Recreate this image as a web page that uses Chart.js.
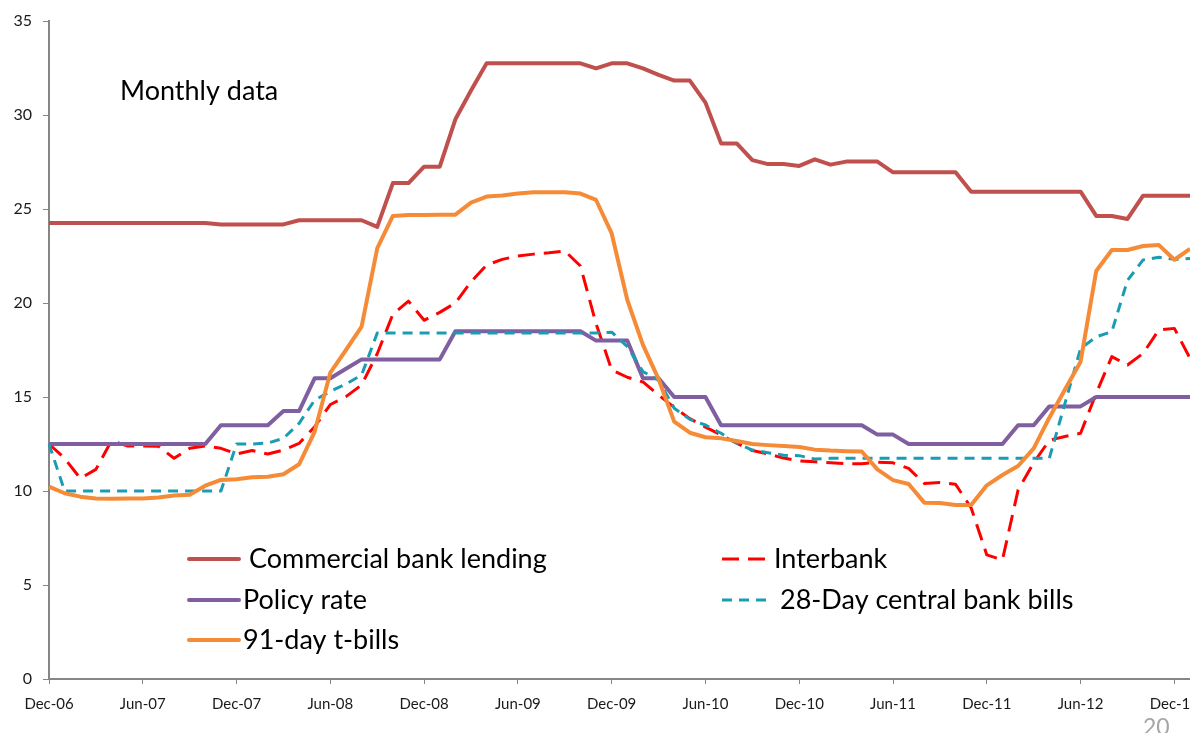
<!DOCTYPE html>
<html>
<head>
<meta charset="utf-8">
<script src="https://cdn.jsdelivr.net/npm/chart.js@4.4.1/dist/chart.umd.min.js"></script>
<style>
  html, body { margin: 0; padding: 0; background: #ffffff; overflow: hidden; }
  #wrap { width: 1190px; height: 733px; }
</style>
</head>
<body>
<div id="wrap"><canvas id="c" width="1190" height="733"></canvas></div>
<script>
// ---------------- DATA ----------------
const months = [
  "Dec-06",
  "Jan-07","Feb-07","Mar-07","Apr-07","May-07","Jun-07","Jul-07","Aug-07","Sep-07","Oct-07","Nov-07","Dec-07",
  "Jan-08","Feb-08","Mar-08","Apr-08","May-08","Jun-08","Jul-08","Aug-08","Sep-08","Oct-08","Nov-08","Dec-08",
  "Jan-09","Feb-09","Mar-09","Apr-09","May-09","Jun-09","Jul-09","Aug-09","Sep-09","Oct-09","Nov-09","Dec-09",
  "Jan-10","Feb-10","Mar-10","Apr-10","May-10","Jun-10","Jul-10","Aug-10","Sep-10","Oct-10","Nov-10","Dec-10",
  "Jan-11","Feb-11","Mar-11","Apr-11","May-11","Jun-11","Jul-11","Aug-11","Sep-11","Oct-11","Nov-11","Dec-11",
  "Jan-12","Feb-12","Mar-12","Apr-12","May-12","Jun-12","Jul-12","Aug-12","Sep-12","Oct-12","Nov-12","Dec-12",
  "Jan-13"
];

const commercialLending = [
  24.26,24.26,24.26,24.26,24.26,24.26,24.26,24.26,24.26,24.26,24.26,24.18,
  24.18,24.18,24.18,24.18,24.4,24.4,24.4,24.4,24.4,24.05,26.38,26.38,
  27.25,27.25,29.77,31.3,32.75,32.75,32.75,32.75,32.75,32.75,32.75,32.48,
  32.75,32.75,32.48,32.13,31.83,31.83,30.66,28.49,28.49,27.6,27.39,27.39,
  27.29,27.64,27.36,27.52,27.52,27.52,26.95,26.95,26.95,26.95,26.95,25.92,
  25.92,25.92,25.92,25.92,25.92,25.92,25.92,24.63,24.63,24.47,25.71,25.71,
  25.71,25.71
];

const interbank = [
  12.5,11.74,10.67,11.15,12.68,12.4,12.4,12.38,11.74,12.27,12.4,12.27,
  11.97,12.15,11.97,12.18,12.53,13.42,14.6,15.02,15.64,17.3,19.4,20.1,
  19.08,19.5,20.0,21.13,22.02,22.32,22.5,22.6,22.67,22.77,21.97,18.9,
  16.44,16.05,15.8,15.1,14.45,13.85,13.4,12.98,12.54,12.15,11.97,11.75,
  11.6,11.55,11.5,11.45,11.45,11.53,11.5,11.2,10.4,10.45,10.36,9.1,
  6.6,6.33,10.05,11.5,12.7,12.9,13.07,15.2,17.15,16.7,17.32,18.56,
  18.65,17.06
];

const policyRate = [
  12.5,12.5,12.5,12.5,12.5,12.5,12.5,12.5,12.5,12.5,12.5,13.5,
  13.5,13.5,13.5,14.25,14.25,16,16,16.5,17,17,17,17,
  17,17,18.5,18.5,18.5,18.5,18.5,18.5,18.5,18.5,18.5,18,
  18,18,16,16,15,15,15,13.5,13.5,13.5,13.5,13.5,
  13.5,13.5,13.5,13.5,13.5,13,13,12.5,12.5,12.5,12.5,12.5,
  12.5,12.5,13.5,13.5,14.5,14.5,14.5,15,15,15,15,15,
  15,15
];

const centralBankBills28 = [
  12.5,10,10,10,10,10,10,10,10,10,10,10,
  12.5,12.5,12.55,12.8,13.6,14.84,15.3,15.69,16.17,18.4,18.4,18.4,
  18.4,18.4,18.4,18.4,18.4,18.4,18.4,18.4,18.4,18.4,18.4,18.4,
  18.45,17.68,16.35,15.9,14.4,13.81,13.51,13.07,12.54,12.18,12.04,11.9,
  11.88,11.7,11.74,11.74,11.74,11.74,11.74,11.74,11.74,11.74,11.74,11.74,
  11.74,11.74,11.74,11.74,11.74,14.66,17.58,18.2,18.48,21.2,22.29,22.43,
  22.32,22.37
];

const tBills91 = [
  10.23,9.88,9.7,9.6,9.59,9.6,9.6,9.65,9.76,9.8,10.28,10.59,
  10.62,10.73,10.76,10.89,11.42,13.16,16.3,17.5,18.74,22.9,24.63,24.68,
  24.68,24.7,24.7,25.34,25.66,25.72,25.82,25.89,25.89,25.89,25.82,25.48,
  23.7,20.16,17.77,15.95,13.69,13.1,12.86,12.8,12.66,12.5,12.44,12.39,
  12.34,12.2,12.15,12.12,12.1,11.15,10.58,10.37,9.38,9.36,9.26,9.26,
  10.3,10.85,11.33,12.27,13.9,15.4,16.88,21.7,22.82,22.82,23.03,23.09,
  22.3,22.88
];

const seriesNames = ["Commercial bank lending", "Interbank", "Policy rate", "28-Day central bank bills", "91-day t-bills"];
const yTicks = [0, 5, 10, 15, 20, 25, 30, 35];
const noteText = "Monthly data";
const pageNumber = "20";

// ---------------- CHART ----------------
const FONT = "Lato";
const AXIS = "#868686";

const overlay = {
  id: "overlay",
  afterDraw(chart) {
    const ctx = chart.ctx;
    ctx.save();
    ctx.fillStyle = "#000000";
    ctx.textBaseline = "alphabetic";
    ctx.textAlign = "left";
    ctx.font = "27px " + FONT;
    ctx.fillText(noteText, 120, 100);

    // custom two-column legend
    const layout = [
      { ds: 0, x1: 189, x2: 239, y: 559, tx: 249 },
      { ds: 2, x1: 189, x2: 239, y: 600, tx: 243 },
      { ds: 4, x1: 189, x2: 239, y: 640, tx: 243 },
      { ds: 1, x1: 722, x2: 768, y: 559, tx: 774 },
      { ds: 3, x1: 722, x2: 768, y: 600, tx: 780 }
    ];
    layout.forEach(it => {
      const d = chart.data.datasets[it.ds];
      ctx.save();
      ctx.strokeStyle = d.borderColor;
      ctx.lineWidth = d.borderWidth;
      ctx.lineCap = d.borderDash ? "butt" : "round";
      ctx.setLineDash(d.borderDash || []);
      ctx.beginPath();
      ctx.moveTo(it.x1, it.y);
      ctx.lineTo(it.x2, it.y);
      ctx.stroke();
      ctx.restore();
      ctx.fillStyle = "#000000";
      ctx.font = "27px " + FONT;
      ctx.fillText(d.label, it.tx, it.y + 9);
    });

    ctx.fillStyle = "#a6a6a6";
    ctx.font = "23px " + FONT;
    ctx.fillText(pageNumber, 1143, 735);
    ctx.restore();
  }
};

function build() {
  Chart.defaults.font.family = FONT;
  new Chart(document.getElementById("c"), {
    type: "line",
    data: {
      labels: months,
      datasets: [
        { label: seriesNames[0], data: commercialLending, borderColor: "#C0504D", borderWidth: 4, order: 5 },
        { label: seriesNames[1], data: interbank, borderColor: "#FF0000", borderWidth: 3, borderDash: [17, 9], order: 4 },
        { label: seriesNames[2], data: policyRate, borderColor: "#7F5F9F", borderWidth: 4, order: 3 },
        { label: seriesNames[3], data: centralBankBills28, borderColor: "#1A9DB3", borderWidth: 3, borderDash: [10, 7], order: 2 },
        { label: seriesNames[4], data: tBills91, borderColor: "#F68B37", borderWidth: 4, order: 1 }
      ]
    },
    options: {
      responsive: false,
      animation: false,
      events: [],
      layout: { padding: { left: 0, right: 0, top: 21, bottom: 0 } },
      elements: {
        point: { radius: 0 },
        line: { tension: 0, borderJoinStyle: "round", fill: false }
      },
      plugins: { legend: { display: false }, tooltip: { enabled: false } },
      scales: {
        x: {
          type: "category",
          offset: false,
          afterFit(scale) { scale.height = 54; scale.paddingRight = 0; scale.paddingLeft = 0; },
          grid: { display: true, drawOnChartArea: false, drawTicks: true, tickLength: 5, color: AXIS, lineWidth: 1 },
          border: { display: true, color: AXIS, width: 2 },
          ticks: {
            autoSkip: false,
            maxRotation: 0,
            minRotation: 0,
            padding: 11,
            color: "#1a1a1a",
            font: { size: 15, family: FONT },
            callback: (v, i) => (i % 6 === 0 ? months[i] : null)
          }
        },
        y: {
          min: 0,
          max: 35,
          afterFit(scale) { scale.width = 49; scale.paddingTop = 0; scale.paddingBottom = 0; },
          afterBuildTicks(scale) { scale.ticks = yTicks.map(v => ({ value: v })); },
          grid: { display: true, drawOnChartArea: false, drawTicks: true, tickLength: 6, color: AXIS, lineWidth: 1 },
          border: { display: true, color: AXIS, width: 2 },
          ticks: {
            padding: 11,
            color: "#1a1a1a",
            font: { size: 16, family: FONT }
          }
        }
      }
    },
    plugins: [overlay]
  });
}

const fontLoads = document.fonts ? Promise.all([
  document.fonts.load("16px Lato"), document.fonts.load("27px Lato")
]).catch(() => {}) : Promise.resolve();
fontLoads.then(build);
</script>
</body>
</html>
